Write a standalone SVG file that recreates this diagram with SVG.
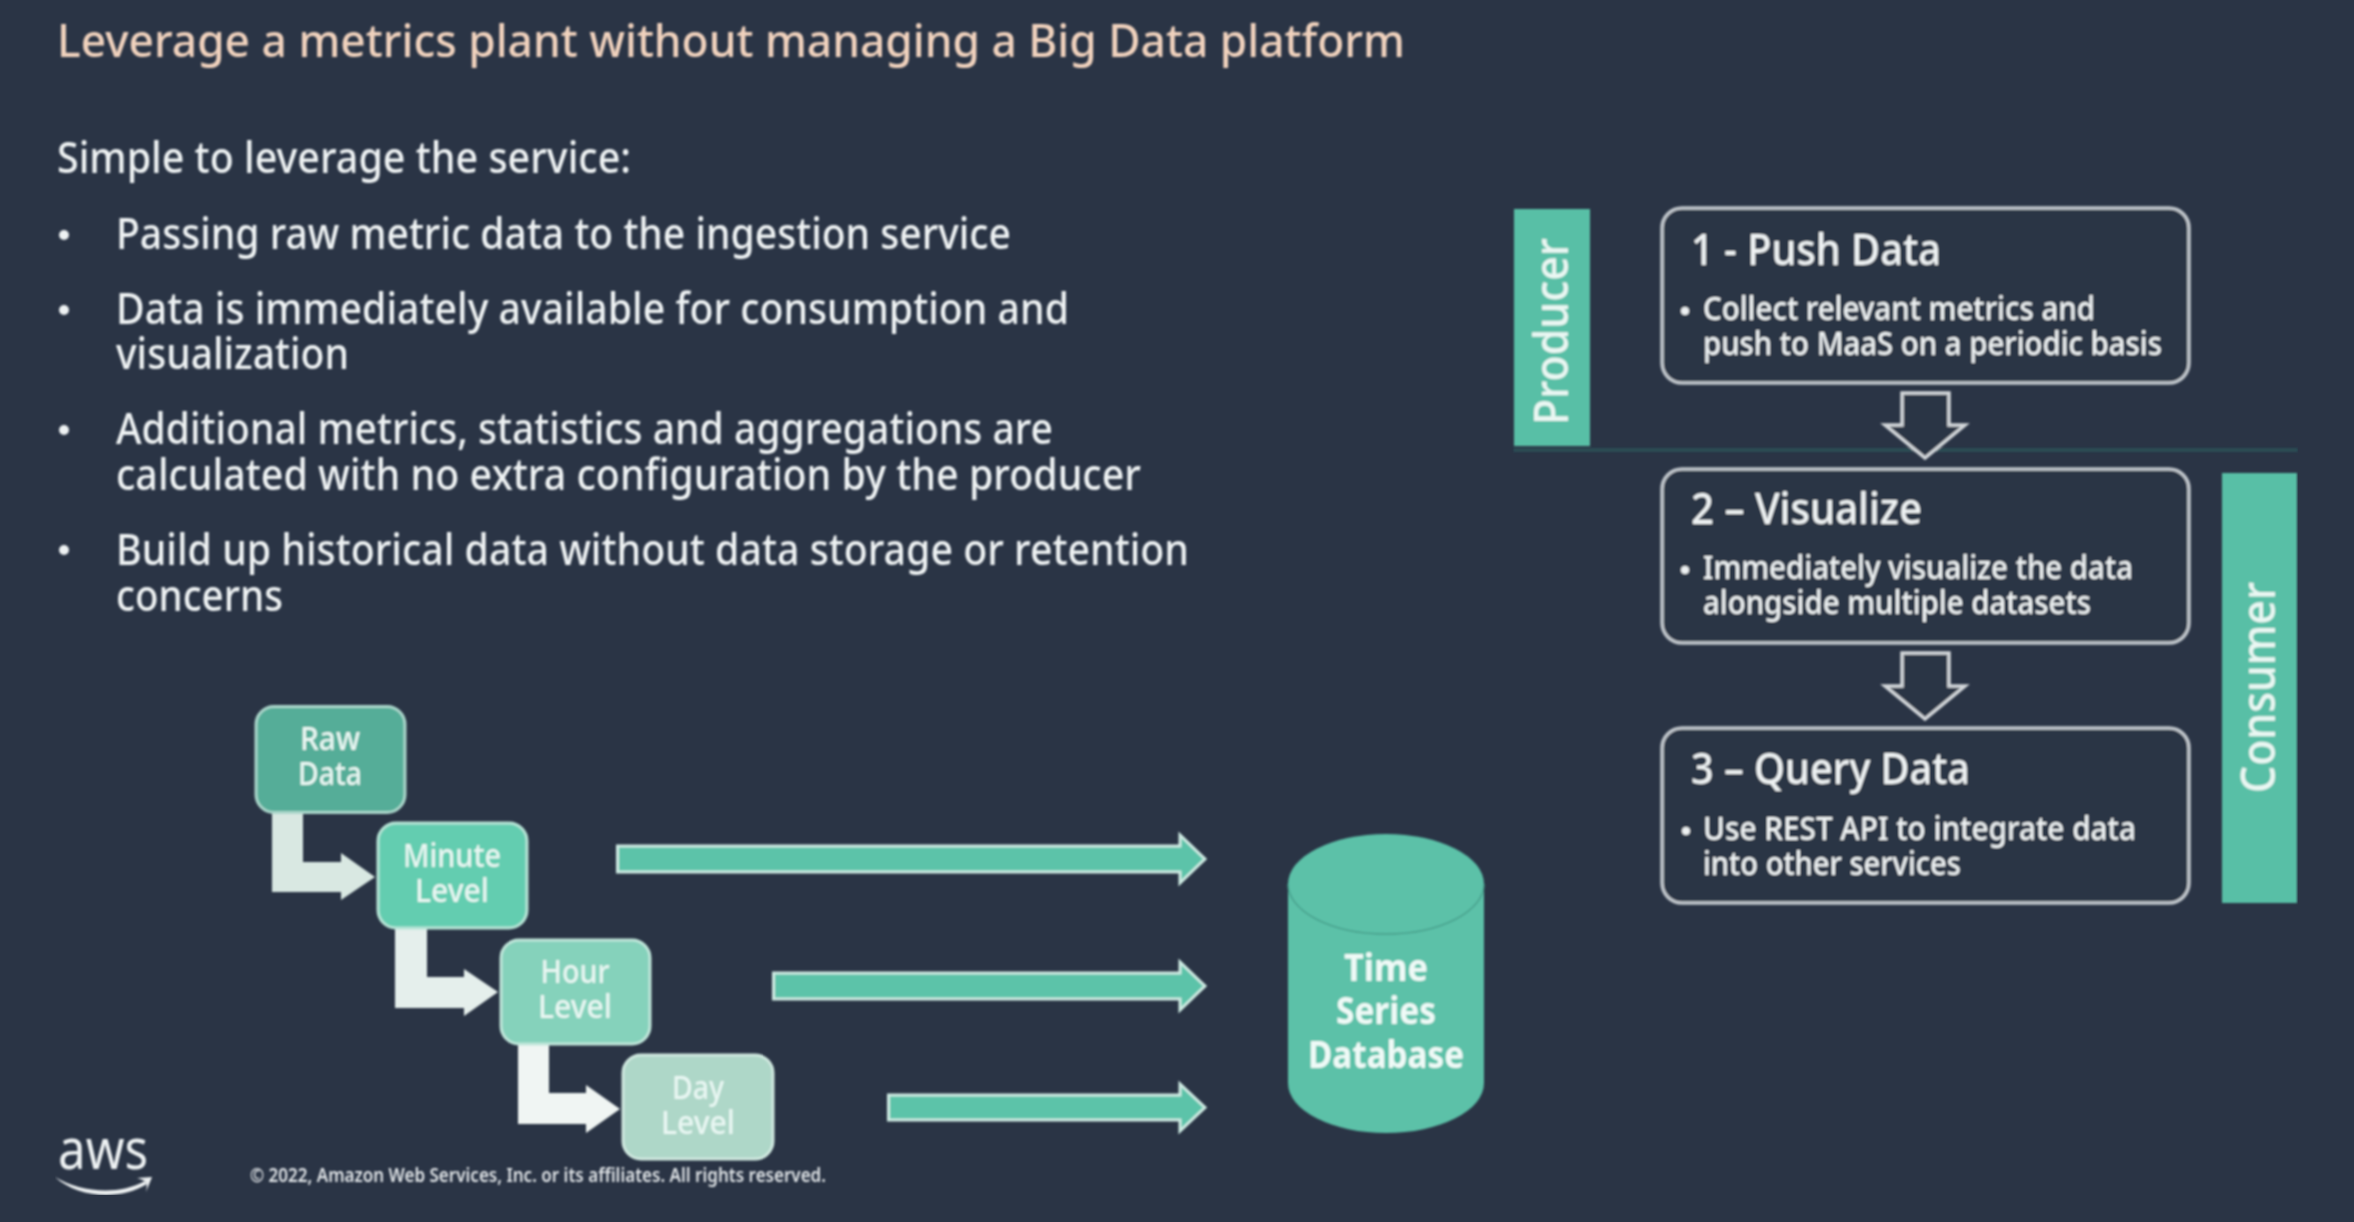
<svg xmlns="http://www.w3.org/2000/svg" width="2354" height="1222" viewBox="0 0 2354 1222">
<defs>
<filter id="soft" x="0" y="0" width="100%" height="100%"><feGaussianBlur stdDeviation="0.8"/></filter>
</defs>
<style>
text{font-family:"Noto Sans","Open Sans","Liberation Sans",sans-serif;fill:#eef2f3}
.title{font-size:46px;fill:#f0d2bd;font-weight:500}
.body{font-size:43px;font-weight:500}
.head{font-size:43px;font-weight:500}
.small{font-size:32px;font-weight:500}
.node{font-size:33px;font-weight:500;fill:#e9f7f3;text-anchor:middle}
.db{font-size:37px;font-weight:700;fill:#effaf7;text-anchor:middle}
.side{font-size:48px;fill:#eaf7f3;font-weight:500}
.copy{font-size:19px;font-weight:600;fill:#dfe3e6}
.dot{fill:#eef2f3}
.box{fill:#2a3445;stroke:#bfc5ca;stroke-width:3.500}
.bar{fill:#59bfa6}
.flow{fill:#5cc3a9;stroke:#cdeae2;stroke-width:3}
.down{fill:#2a3445;stroke:#d2d6d9;stroke-width:3.500}
</style>
<rect width="2354" height="1222" fill="#2a3445"/>
<g filter="url(#soft)">
<g id="heading">
<text class="title" x="57" y="57" textLength="1348" lengthAdjust="spacingAndGlyphs">Leverage a metrics plant without managing a Big Data platform</text>
<text class="body" x="57" y="173" textLength="574" lengthAdjust="spacingAndGlyphs">Simple to leverage the service:</text>
</g>
<g id="bullets">
<circle class="dot" cx="64" cy="235" r="5"/>
<circle class="dot" cx="64" cy="310" r="5"/>
<circle class="dot" cx="64" cy="430" r="5"/>
<circle class="dot" cx="64" cy="550" r="5"/>
<text class="body" x="116" y="249" textLength="895" lengthAdjust="spacingAndGlyphs">Passing raw metric data to the ingestion service</text>
<text class="body" x="116" y="324" textLength="953" lengthAdjust="spacingAndGlyphs">Data is immediately available for consumption and</text>
<text class="body" x="116" y="369" textLength="233" lengthAdjust="spacingAndGlyphs">visualization</text>
<text class="body" x="116" y="444" textLength="937" lengthAdjust="spacingAndGlyphs">Additional metrics, statistics and aggregations are</text>
<text class="body" x="116" y="490" textLength="1025" lengthAdjust="spacingAndGlyphs">calculated with no extra configuration by the producer</text>
<text class="body" x="116" y="565" textLength="1073" lengthAdjust="spacingAndGlyphs">Build up historical data without data storage or retention</text>
<text class="body" x="116" y="611" textLength="167" lengthAdjust="spacingAndGlyphs">concerns</text>
</g>
<g id="connectors">
<path d="M272 812H303V862H341V853L375 877L341 900V892H272Z" fill="#d9e8e2"/>
<path d="M395 928H427V977H464V969L498 992L464 1016V1008H395Z" fill="#e5efec"/>
<path d="M518 1044H549V1093H586V1085L620 1109L586 1133V1124H518Z" fill="#f0f5f3"/>
<path class="flow" d="M617.500 846H1180V835L1205 859L1180 883V872H617.500Z"/>
<path class="flow" d="M773.500 973H1180V962L1205 986L1180 1010V999H773.500Z"/>
<path class="flow" d="M888.500 1095H1180V1084L1205 1107.500L1180 1131V1120H888.500Z"/>
<path d="M1514 450H2298" fill="none" stroke="#2c565b" stroke-width="4" stroke-dasharray="2 1"/>
<path class="down" d="M1902 393H1949V425H1965L1925 458L1885 425H1902Z"/>
<path class="down" d="M1902 653H1949V686H1965L1925 719L1885 686H1902Z"/>
</g>
<g id="raw-data">
<rect x="256" y="706.500" width="149" height="106" rx="18" fill="#55ad98" stroke="#a9d6ca" stroke-width="3"/>
<text class="node" x="330" y="750" textLength="60" lengthAdjust="spacingAndGlyphs">Raw</text>
<text class="node" x="330" y="785" textLength="64" lengthAdjust="spacingAndGlyphs">Data</text>
</g>
<g id="minute-level">
<rect x="378" y="823" width="149" height="105" rx="18" fill="#64cdb0" stroke="#b5e4d6" stroke-width="3"/>
<text class="node" x="452" y="867" textLength="98" lengthAdjust="spacingAndGlyphs">Minute</text>
<text class="node" x="452" y="902" textLength="74" lengthAdjust="spacingAndGlyphs">Level</text>
</g>
<g id="hour-level">
<rect x="501" y="940" width="149" height="104" rx="18" fill="#85d2bb" stroke="#bfe6da" stroke-width="3"/>
<text class="node" x="575" y="983" textLength="69" lengthAdjust="spacingAndGlyphs">Hour</text>
<text class="node" x="575" y="1018" textLength="74" lengthAdjust="spacingAndGlyphs">Level</text>
</g>
<g id="day-level">
<rect x="623" y="1055" width="150" height="104" rx="18" fill="#aed7c8" stroke="#cfe8df" stroke-width="3"/>
<text class="node" x="698" y="1099" textLength="52" lengthAdjust="spacingAndGlyphs">Day</text>
<text class="node" x="698" y="1134" textLength="74" lengthAdjust="spacingAndGlyphs">Level</text>
</g>
<g id="time-series-database">
<path d="M1288 884A98 50 0 0 1 1484 884V1083A98 50 0 0 1 1288 1083Z" fill="#5bc1a8"/>
<path d="M1288 884A98 50 0 0 0 1484 884" fill="none" stroke="#479d8a" stroke-width="1.500"/>
<text class="db" x="1386" y="981" textLength="84" lengthAdjust="spacingAndGlyphs">Time</text>
<text class="db" x="1386" y="1024" textLength="100" lengthAdjust="spacingAndGlyphs">Series</text>
<text class="db" x="1386" y="1068" textLength="156" lengthAdjust="spacingAndGlyphs">Database</text>
</g>
<g id="producer">
<rect class="bar" x="1514" y="209" width="76" height="237"/>
<text class="side" transform="translate(1568 425) rotate(-90)" textLength="187" lengthAdjust="spacingAndGlyphs">Producer</text>
</g>
<g id="consumer">
<rect class="bar" x="2222" y="473" width="75" height="430"/>
<text class="side" transform="translate(2275 793) rotate(-90)" textLength="211" lengthAdjust="spacingAndGlyphs">Consumer</text>
</g>
<g id="push-data">
<rect class="box" x="1662" y="208" width="527" height="175" rx="20"/>
<text class="head" x="1691" y="265" textLength="250" lengthAdjust="spacingAndGlyphs">1 - Push Data</text>
<circle class="dot" cx="1685" cy="311" r="4"/>
<text class="small" x="1703" y="320" textLength="392" lengthAdjust="spacingAndGlyphs">Collect relevant metrics and</text>
<text class="small" x="1703" y="355" textLength="459" lengthAdjust="spacingAndGlyphs">push to MaaS on a periodic basis</text>
</g>
<g id="visualize">
<rect class="box" x="1662" y="469" width="527" height="174" rx="20"/>
<text class="head" x="1691" y="524" textLength="231" lengthAdjust="spacingAndGlyphs">2 – Visualize</text>
<circle class="dot" cx="1685" cy="570" r="4"/>
<text class="small" x="1703" y="579" textLength="430" lengthAdjust="spacingAndGlyphs">Immediately visualize the data</text>
<text class="small" x="1703" y="614" textLength="388" lengthAdjust="spacingAndGlyphs">alongside multiple datasets</text>
</g>
<g id="query-data">
<rect class="box" x="1662" y="728" width="527" height="175" rx="20"/>
<text class="head" x="1691" y="784" textLength="279" lengthAdjust="spacingAndGlyphs">3 – Query Data</text>
<circle class="dot" cx="1686" cy="831" r="4"/>
<text class="small" x="1703" y="840" textLength="433" lengthAdjust="spacingAndGlyphs">Use REST API to integrate data</text>
<text class="small" x="1703" y="875" textLength="258" lengthAdjust="spacingAndGlyphs">into other services</text>
</g>
<g id="footer">
<text x="58" y="1169" font-size="56" font-weight="400" textLength="90" lengthAdjust="spacingAndGlyphs">aws</text>
<path d="M55 1177C80 1192 118 1196 145 1181L147 1184C120 1201 78 1198 55 1177Z" fill="#eef2f3"/>
<path d="M137 1178L152 1177L146 1192C147 1188 147 1184 146 1182C144 1180 140 1179 137 1178Z" fill="#eef2f3"/>
<text class="copy" x="250" y="1182" textLength="576" lengthAdjust="spacingAndGlyphs">© 2022, Amazon Web Services, Inc. or its affiliates. All rights reserved.</text>
</g>
</g>
</svg>
